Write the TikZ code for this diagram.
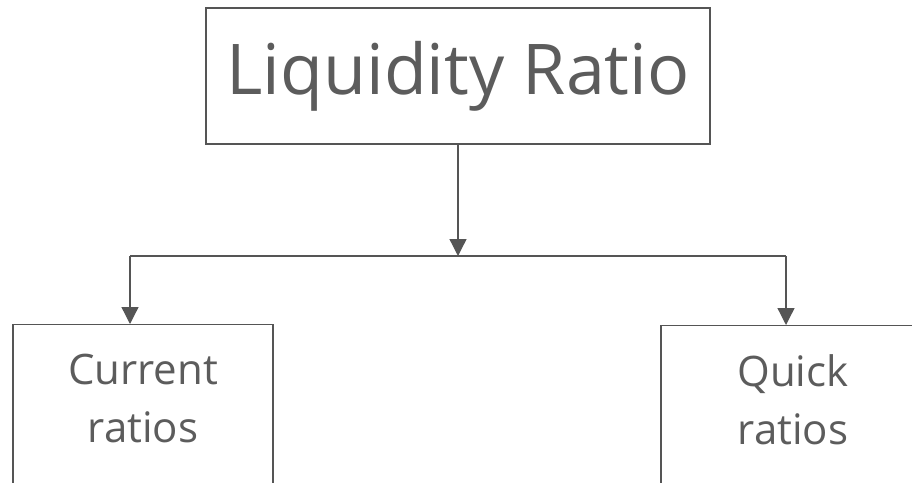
\documentclass[tikz,border=0pt]{standalone}
\usepackage{fontspec}
\setmainfont{Open Sans}
\usetikzlibrary{arrows.meta,positioning}
\definecolor{linegray}{HTML}{555555}
\definecolor{textgray}{HTML}{5C5C5C}
\tikzset{
  box/.style={draw=linegray, line width=1.3pt, text=textgray, align=center},
  arr/.style={draw=linegray, line width=1.3pt, -{Triangle[length=17pt,width=17pt]}},
  link/.style={draw=linegray, line width=1.3pt}
}
\begin{document}
\begin{tikzpicture}[x=1pt,y=-1pt]
\useasboundingbox (0,0) rectangle (912,482);
\clip (0,0) rectangle (912,482);

\node[box, minimum width=504pt, minimum height=136pt,
  font=\fontsize{70}{80}\selectfont] (title) at (458,76) {Liquidity Ratio};

\node[box, anchor=north, minimum width=260pt, inner ysep=29pt, text depth=120pt,
  font=\fontsize{42}{58}\selectfont] (curr) at (143,324) {Current\\ratios};
\node[box, anchor=north, minimum width=264pt, inner ysep=29pt, text depth=120pt,
  font=\fontsize{42}{58}\selectfont] (quick) at (793,325) {Quick\\ratios};

\coordinate (junc) at (458,256);
\coordinate (cl) at (130,256);
\coordinate (cr) at (786,256);

\draw[arr] (title.south) -- (junc);
\draw[link] (cl) -- (cr);
\draw[arr] (cl) -- (cl |- curr.north);
\draw[arr] (cr) -- (cr |- quick.north);
\end{tikzpicture}
\end{document}
